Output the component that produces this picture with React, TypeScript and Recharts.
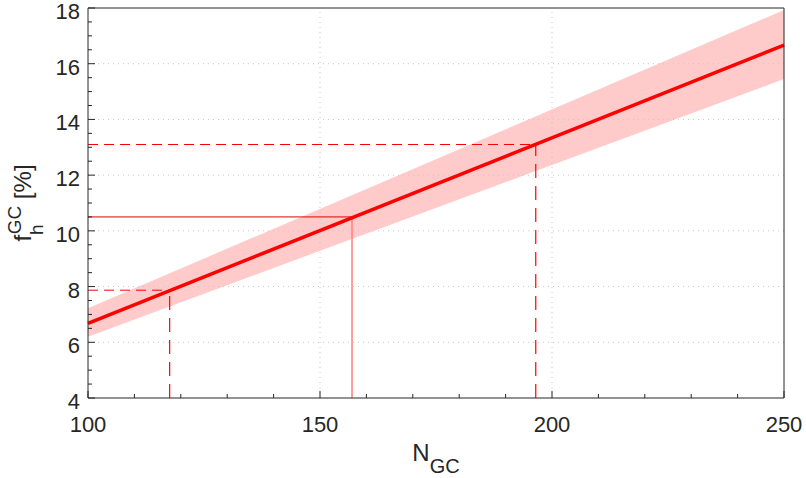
import React from 'react';
import {
  Area,
  ComposedChart,
  Line,
  ReferenceLine,
  XAxis,
  YAxis,
} from 'recharts';

// fit line and its uncertainty band, read at both ends of the axis
const N_GC = [100, 250];
const FIT = [6.68, 16.67];
const BAND_LOW = [6.2, 15.45];
const BAND_HIGH = [7.22, 17.93];

// marked points on the fit: low / middle / high
const MARK_N = [117.6, 156.9, 196.5];
const MARK_F = [7.87, 10.5, 13.1];

const X_TICKS = [
  100, 110, 120, 130, 140, 150, 160, 170, 180, 190, 200, 210, 220, 230, 240,
  250,
];
const X_LABELS = [100, 150, 200, 250];
const Y_TICKS = [
  4, 4.5, 5, 5.5, 6, 6.5, 7, 7.5, 8, 8.5, 9, 9.5, 10, 10.5, 11, 11.5, 12,
  12.5, 13, 13.5, 14, 14.5, 15, 15.5, 16, 16.5, 17, 17.5, 18,
];
const Y_LABELS = [4, 6, 8, 10, 12, 14, 16, 18];
const GRID_X = [150, 200];
const GRID_Y = [6, 8, 10, 12, 14, 16];

const FONT = '"Liberation Sans", Arial, Helvetica, sans-serif';
const INK = '#262626';

const chartData = N_GC.map((n, i) => ({
  n,
  fit: FIT[i],
  band: [BAND_LOW[i], BAND_HIGH[i]],
}));

type Side = 'bottom' | 'top' | 'left' | 'right';

const makeTick = (side: Side, labeled: number[]) => (props: any) => {
  const { x, y, payload } = props;
  const v = payload.value;
  const major = labeled.includes(v);
  const len = major ? 7 : 4;
  let line;
  if (side === 'bottom') line = <line x1={x} x2={x} y1={y} y2={y - len} />;
  else if (side === 'top') line = <line x1={x} x2={x} y1={y} y2={y + len} />;
  else if (side === 'left') line = <line x1={x} x2={x + len} y1={y} y2={y} />;
  else line = <line x1={x} x2={x - len} y1={y} y2={y} />;
  return (
    <g stroke={INK} strokeWidth={1}>
      {line}
      {major && side === 'bottom' && (
        <text
          x={x}
          y={y + 34}
          textAnchor='middle'
          fontSize={22}
          fontFamily={FONT}
          fill={INK}
          stroke='none'
        >
          {v}
        </text>
      )}
      {major && side === 'left' && (
        <text
          x={x - 8}
          y={y + 11}
          textAnchor='end'
          fontSize={22}
          fontFamily={FONT}
          fill={INK}
          stroke='none'
        >
          {v}
        </text>
      )}
    </g>
  );
};

const XLabel = (props: any) => {
  const { x, y, width } = props.viewBox;
  return (
    <text
      x={x + width / 2}
      y={y + 63}
      textAnchor='middle'
      fontFamily={FONT}
      fill={INK}
    >
      <tspan fontSize={24}>N</tspan>
      <tspan fontSize={20} dy={12}>
        GC
      </tspan>
    </text>
  );
};

const YLabel = (props: any) => {
  const { x, y, height } = props.viewBox;
  const cx = x + 31;
  const cy = y + height / 2;
  return (
    <text
      transform={`translate(${cx},${cy}) rotate(-90)`}
      textAnchor='middle'
      fontFamily={FONT}
      fill={INK}
    >
      <tspan fontSize={24}>f</tspan>
      <tspan fontSize={19} dy={12}>
        h
      </tspan>
      <tspan fontSize={19} dx={-10} dy={-22}>
        GC
      </tspan>
      <tspan fontSize={24} dy={10}>
        {' [%]'}
      </tspan>
    </text>
  );
};

export default function App() {
  return (
    <div style={{ position: 'absolute', left: 0, top: 0, background: '#fff' }}>
      <ComposedChart
        width={806}
        height={478}
        data={chartData}
        margin={{ top: 0, right: 0, left: 0, bottom: 0 }}
      >
        <XAxis
          xAxisId='bottom'
          dataKey='n'
          type='number'
          domain={[100, 250]}
          ticks={X_TICKS}
          interval={0}
          height={80}
          tickSize={0}
          tickMargin={0}
          tickLine={false}
          axisLine={{ stroke: INK }}
          tick={makeTick('bottom', X_LABELS)}
          label={{ content: XLabel }}
        />
        <XAxis
          xAxisId='top'
          orientation='top'
          type='number'
          domain={[100, 250]}
          ticks={X_TICKS}
          interval={0}
          height={8}
          tickSize={0}
          tickMargin={0}
          tickLine={false}
          axisLine={{ stroke: INK }}
          tick={makeTick('top', X_LABELS)}
        />
        <YAxis
          yAxisId='left'
          type='number'
          domain={[4, 18]}
          ticks={Y_TICKS}
          interval={0}
          width={88}
          tickSize={0}
          tickMargin={0}
          tickLine={false}
          axisLine={{ stroke: INK }}
          tick={makeTick('left', Y_LABELS)}
          label={{ content: YLabel }}
        />
        <YAxis
          yAxisId='right'
          orientation='right'
          type='number'
          domain={[4, 18]}
          ticks={Y_TICKS}
          interval={0}
          width={22}
          tickSize={0}
          tickMargin={0}
          tickLine={false}
          axisLine={{ stroke: INK }}
          tick={makeTick('right', Y_LABELS)}
        />
        <Area
          xAxisId='bottom'
          yAxisId='left'
          type='linear'
          dataKey='band'
          stroke='none'
          fill='#ffcaca'
          fillOpacity={1}
          isAnimationActive={false}
        />
        {GRID_X.map(v => (
          <ReferenceLine
            key={`gx${v}`}
            xAxisId='bottom'
            yAxisId='left'
            x={v}
            stroke='#c8c8c8'
            strokeDasharray='1 4'
          />
        ))}
        {GRID_Y.map(v => (
          <ReferenceLine
            key={`gy${v}`}
            xAxisId='bottom'
            yAxisId='left'
            y={v}
            stroke='#c8c8c8'
            strokeDasharray='1 4'
          />
        ))}
        {/* low marker */}
        <ReferenceLine
          xAxisId='bottom'
          yAxisId='left'
          segment={[
            { x: N_GC[0], y: MARK_F[0] },
            { x: MARK_N[0], y: MARK_F[0] },
          ]}
          stroke='#ff0000'
          strokeDasharray='10 6'
        />
        <ReferenceLine
          xAxisId='bottom'
          yAxisId='left'
          segment={[
            { x: MARK_N[0], y: 4 },
            { x: MARK_N[0], y: MARK_F[0] },
          ]}
          stroke='#ff0000'
          strokeWidth={1.2}
          strokeDasharray='14 8'
        />
        {/* middle marker */}
        <ReferenceLine
          xAxisId='bottom'
          yAxisId='left'
          segment={[
            { x: N_GC[0], y: MARK_F[1] },
            { x: MARK_N[1], y: MARK_F[1] },
          ]}
          stroke='#e00000'
          strokeWidth={1}
        />
        <ReferenceLine
          xAxisId='bottom'
          yAxisId='left'
          segment={[
            { x: MARK_N[1], y: 4 },
            { x: MARK_N[1], y: MARK_F[1] },
          ]}
          stroke='#ff7f7f'
          strokeWidth={1.5}
        />
        {/* high marker */}
        <ReferenceLine
          xAxisId='bottom'
          yAxisId='left'
          segment={[
            { x: N_GC[0], y: MARK_F[2] },
            { x: MARK_N[2], y: MARK_F[2] },
          ]}
          stroke='#ff0000'
          strokeDasharray='10 6'
        />
        <ReferenceLine
          xAxisId='bottom'
          yAxisId='left'
          segment={[
            { x: MARK_N[2], y: 4 },
            { x: MARK_N[2], y: MARK_F[2] },
          ]}
          stroke='#ff0000'
          strokeWidth={1.2}
          strokeDasharray='14 8'
        />
        <Line
          xAxisId='bottom'
          yAxisId='left'
          type='linear'
          dataKey='fit'
          stroke='#ff0000'
          strokeWidth={3.5}
          dot={false}
          activeDot={false}
          isAnimationActive={false}
        />
      </ComposedChart>
    </div>
  );
}
